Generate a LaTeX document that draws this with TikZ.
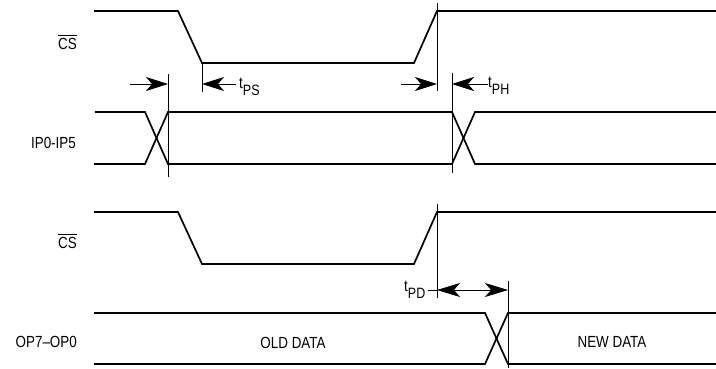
\documentclass[tikz,border=0pt]{standalone}
\usepackage{fontspec}
\setmainfont{Liberation Sans}
\usepackage{amsmath}
\usepackage{graphicx}
\usetikzlibrary{arrows.meta}
\usetikzlibrary{positioning}

\newcommand{\tall}[1]{\scalebox{1}[1.2]{#1}}
\newcommand{\tsub}[1]{\tall{t\raisebox{-6pt}{\fontsize{12.5}{12}\selectfont #1}}}

\begin{document}
\begin{tikzpicture}[x=1pt,y=-1pt,
    every node/.style={font=\fontsize{13.4}{16}\selectfont, inner sep=0pt},
    signal/.style={line width=1.7pt, line join=miter},
    guide/.style={line width=0.8pt},
    tip/.style={-{Stealth[length=22pt,width=14pt,inset=6pt]}, line width=0.8pt},
    tips/.style={{Stealth[length=23pt,width=14pt,inset=6pt]}-{Stealth[length=23pt,width=14pt,inset=6pt]}, line width=0.8pt}]
  \useasboundingbox (0,0) rectangle (716,368);

  % Etiquetas
  \node[anchor=east] (cs1) at (77,42) {\tall{$\overline{\text{CS}}$}};
  \node[anchor=east] (ip) at (76,143) {\tall{IP0-IP5}};
  \node[anchor=east] (cs2) at (77,241) {\tall{$\overline{\text{CS}}$}};
  \node[anchor=east] (op) at (77,342) {\tall{OP7--OP0}};
  \node (old) at (293,343) {\tall{OLD DATA}};
  \node (new) at (612,342) {\tall{NEW DATA}};

  % Senales
  \draw[signal] (94,11) -- (178,11) -- (202,63) -- (414,63) -- (437,11) -- (716,11);
  \draw[signal] (95,112) -- (145,112) -- (168,164) -- (452,164) -- (475,112) -- (716,112);
  \draw[signal] (94,164) -- (145,164) -- (168,112) -- (452,112) -- (475,164) -- (716,164);
  \draw[signal] (94,212) -- (178,212) -- (202,264) -- (414,264) -- (437,212) -- (716,212);
  \draw[signal] (94,313) -- (485,313) -- (508,364) -- (716,364);
  \draw[signal] (94,364) -- (485,364) -- (508,313) -- (716,313);

  % Referencias
  \coordinate (psL) at (168,74);
  \coordinate (psLb) at (168,177);
  \coordinate (psR) at (202,63);
  \coordinate (psRb) at (202,92);
  \coordinate (phL) at (437,3);
  \coordinate (phLb) at (437,91);
  \coordinate (phR) at (452,73);
  \coordinate (phRb) at (452,173);
  \coordinate (pdL) at (437,204);
  \coordinate (pdLb) at (437,298);
  \coordinate (pdR) at (508,281);
  \coordinate (pdRb) at (508,368);
  \draw[guide] (psL) -- (psLb);
  \draw[guide] (psR) -- (psRb);
  \draw[guide] (phL) -- (phLb);
  \draw[guide] (phR) -- (phRb);
  \draw[guide] (pdL) -- (pdLb);
  \draw[guide] (pdR) -- (pdRb);

  % Tiempos
  \coordinate (a1) at (130,84);
  \coordinate (a2) at (168,84);
  \coordinate (a3) at (236,84);
  \coordinate (a4) at (202,84);
  \draw[tip] (a1) -- (a2);
  \draw[tip] (a3) -- (a4);
  \node[anchor=base west] (tps) at (239,88) {\tsub{PS}};

  \coordinate (b1) at (401,84);
  \coordinate (b2) at (437,84);
  \coordinate (b3) at (488,84);
  \coordinate (b4) at (452,84);
  \draw[tip] (b1) -- (b2);
  \draw[tip] (b3) -- (b4);
  \node[anchor=base west] (tph) at (488,87) {\tsub{PH}};

  \coordinate (c0) at (428,290);
  \coordinate (c1) at (437,290);
  \coordinate (c2) at (508,290);
  \draw[tips] (c1) -- (c2);
  \draw[guide] (c0) -- (c1);
  \node[anchor=base west] (tpd) at (404,291) {\tsub{PD}};
\end{tikzpicture}
\end{document}
